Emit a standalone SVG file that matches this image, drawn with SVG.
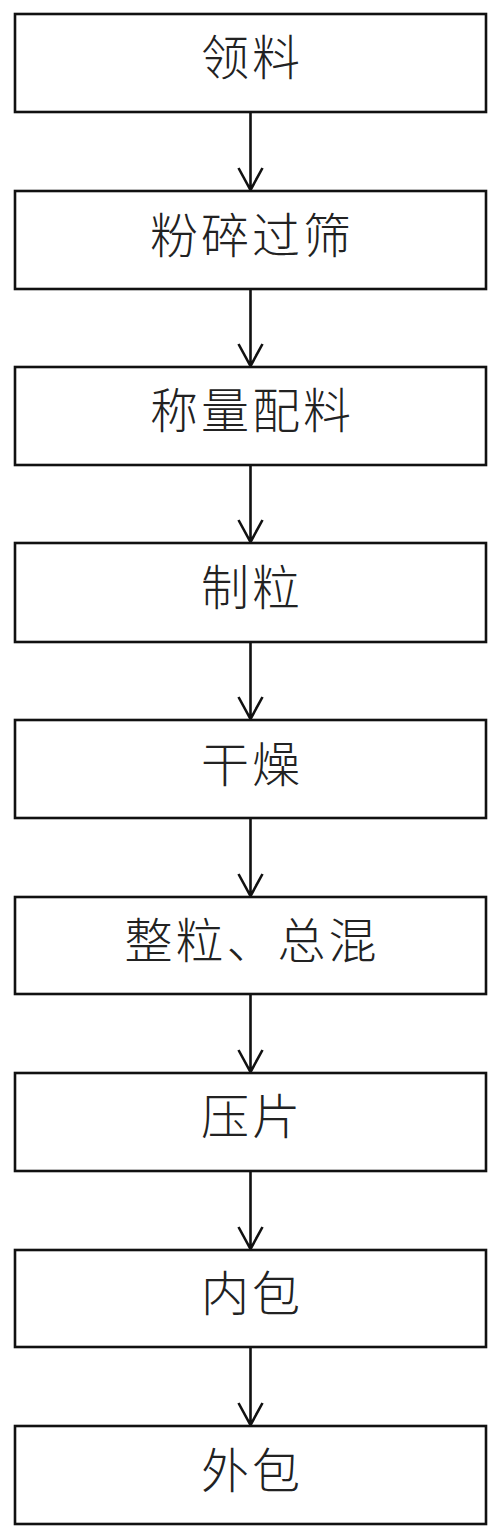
<svg xmlns="http://www.w3.org/2000/svg" width="500" height="1539" viewBox="0 0 500 1539">
<style>
.box{fill:#fff;stroke:#111;stroke-width:2.6}
.lbl{font-family:"Noto Sans CJK SC","Noto Sans CJK JP",sans-serif;font-size:48px;font-weight:300;fill:#222;text-anchor:middle;letter-spacing:3px}
.con{fill:none;stroke:#111;stroke-width:2.6}
</style>
<rect width="500" height="1539" fill="#fff"/>
<g id="connectors">
<path class="con" d="M250.5 112V190M238.5 168L250.5 190L262.5 168"/>
<path class="con" d="M250.5 289V366M238.5 344L250.5 366L262.5 344"/>
<path class="con" d="M250.5 465V542M238.5 520L250.5 542L262.5 520"/>
<path class="con" d="M250.5 642V719M238.5 697L250.5 719L262.5 697"/>
<path class="con" d="M250.5 818V896M238.5 874L250.5 896L262.5 874"/>
<path class="con" d="M250.5 994V1072M238.5 1050L250.5 1072L262.5 1050"/>
<path class="con" d="M250.5 1171V1249M238.5 1227L250.5 1249L262.5 1227"/>
<path class="con" d="M250.5 1347V1425M238.5 1403L250.5 1425L262.5 1403"/>
</g>
<g id="n1"><rect class="box" x="15" y="14" width="471" height="98"/><text class="lbl" x="252" y="75">领料</text></g>
<g id="n2"><rect class="box" x="15" y="191" width="471" height="98"/><text class="lbl" x="252" y="253">粉碎过筛</text></g>
<g id="n3"><rect class="box" x="15" y="367" width="471" height="98"/><text class="lbl" x="252" y="428">称量配料</text></g>
<g id="n4"><rect class="box" x="15" y="543" width="471" height="99"/><text class="lbl" x="252" y="605">制粒</text></g>
<g id="n5"><rect class="box" x="15" y="720" width="471" height="98"/><text class="lbl" x="252" y="782">干燥</text></g>
<g id="n6"><rect class="box" x="15" y="897" width="471" height="97"/><text class="lbl" x="252" y="958">整粒、总混</text></g>
<g id="n7"><rect class="box" x="15" y="1073" width="471" height="98"/><text class="lbl" x="252" y="1134">压片</text></g>
<g id="n8"><rect class="box" x="15" y="1250" width="471" height="97"/><text class="lbl" x="252" y="1311">内包</text></g>
<g id="n9"><rect class="box" x="15" y="1426" width="471" height="98"/><text class="lbl" x="252" y="1488">外包</text></g>
</svg>
